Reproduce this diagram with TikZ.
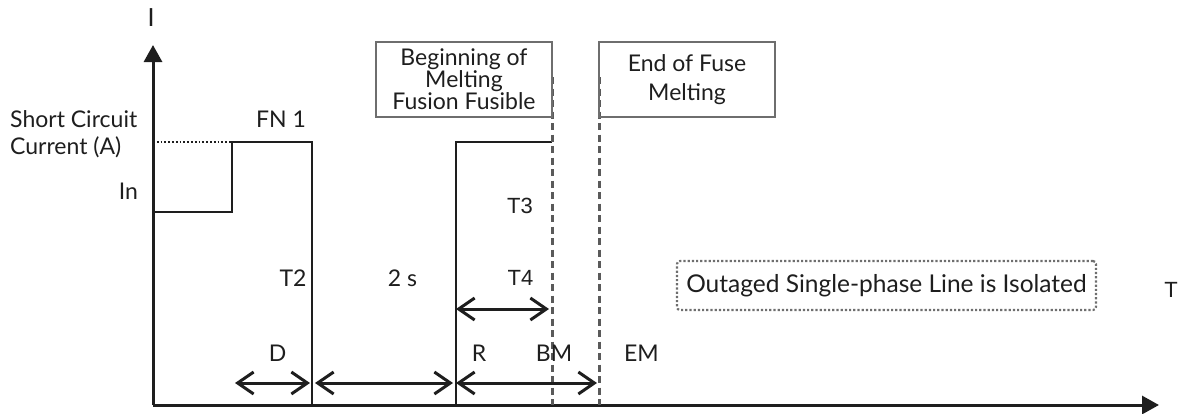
\documentclass[tikz,border=0pt]{standalone}
\usepackage{fontspec}
\setmainfont{Lato}
\newfontfamily\arialf{Liberation Sans}
\usetikzlibrary{arrows.meta}
\definecolor{ink}{HTML}{1E1E1E}
\definecolor{boxgray}{HTML}{6E6E6E}
\definecolor{dashgray}{HTML}{5A5A5A}
\tikzset{
  lbl/.style={inner sep=0pt, text=ink, font=\fontsize{23}{24}\selectfont},
  arl/.style={inner sep=0pt, text=ink, font=\arialf\fontsize{22}{24}\selectfont},
  axis/.style={line width=3pt, draw=ink, -{Triangle[length=17pt,width=18pt]}},
  pulse/.style={line width=1.6pt, draw=ink},
  span/.style={line width=3pt, draw=ink, {Straight Barb[length=16pt,width=22pt]}-{Straight Barb[length=16pt,width=22pt]}},
  eventline/.style={line width=3pt, draw=dashgray, dash pattern=on 7pt off 4.5pt},
  eventbox/.style={draw=boxgray, line width=1.8pt, minimum width=176pt, minimum height=75pt, inner sep=0pt, align=center, text=ink},
  notebox/.style={draw=boxgray, line width=2.2pt, dotted, rounded corners=3pt, minimum width=419pt, minimum height=49pt, inner sep=0pt, text=ink, font=\fontsize{24.5}{26}\selectfont}
}
\begin{document}
\begin{tikzpicture}[x=1pt,y=-1pt]
\useasboundingbox (0,0) rectangle (1179,413);
% coordinates
\coordinate (O) at (153,405);
\coordinate (Ytop) at (153,45);
\coordinate (Xend) at (1159,405);
\coordinate (p1a) at (153,212);
\coordinate (p1b) at (232,212);
\coordinate (p1c) at (232,142);
\coordinate (p1d) at (312,142);
\coordinate (p1e) at (312,405);
\coordinate (dotS) at (153,142);
\coordinate (p2a) at (456,405);
\coordinate (p2b) at (456,142);
\coordinate (p2c) at (552,142);
\coordinate (bmT) at (552,77);
\coordinate (bmB) at (552,405);
\coordinate (emT) at (599,77);
\coordinate (emB) at (599,405);
\coordinate (dA) at (235,383);
\coordinate (dB) at (310,383);
\coordinate (sA) at (315,383);
\coordinate (sB) at (453,383);
\coordinate (rA) at (456,383);
\coordinate (rB) at (597,383);
\coordinate (t4A) at (456,309);
\coordinate (t4B) at (549,309);
% axes
\draw[axis] (O) -- (Ytop);
\draw[axis] (O) -- (Xend);
% first pulse
\draw[line width=1.8pt, draw=ink, dotted] (dotS) -- (p1c);
\draw[pulse] (p1a) -- (p1b) -- (p1c) -- (p1d) -- (p1e);
% second pulse
\draw[pulse] (p2a) -- (p2b) -- (p2c);
% dashed markers
\draw[eventline] (bmT) -- (bmB);
\draw[eventline] (emT) -- (emB);
% boxes
\node[eventbox, font=\fontsize{23}{22}\selectfont] (bm) at (464,79.5) {Beginning of\\Melting\\Fusion Fusible};
\node[eventbox, font=\fontsize{23}{29}\selectfont] (em) at (687,79.5) {End of Fuse\\Melting};
\node[notebox] (iso) at (886.5,285.5) {Outaged Single-phase Line is Isolated};
% spans
\draw[span] (dA) -- (dB);
\draw[span] (sA) -- (sB);
\draw[span] (rA) -- (rB);
\draw[span] (t4A) -- (t4B);
% labels
\node[lbl, font=\fontsize{25}{25}\selectfont] (I) at (151,18) {I};
\node[lbl, anchor=west, align=left, font=\fontsize{23}{27}\selectfont] (sc) at (10,134) {Short Circuit\\Current (A)};
\node[lbl, anchor=base] (fn) at (281,127) {FN 1};
\node[lbl, anchor=base] (in) at (128.5,199) {In};
\node[lbl, anchor=base] (t2) at (293,286) {T2};
\node[lbl, anchor=base] (two) at (402.5,286) {2 s};
\node[arl, anchor=base] (t3) at (520,213) {T3};
\node[arl, anchor=base] (t4) at (520.5,285) {T4};
\node[lbl, anchor=base] (d) at (277.5,361) {D};
\node[lbl, anchor=base] (r) at (479,361) {R};
\node[lbl, anchor=base] (bmL) at (554,361) {BM};
\node[lbl, anchor=base] (emL) at (641.5,361) {EM};
\node[arl, anchor=base east] (T) at (1178,297) {T};
\end{tikzpicture}
\end{document}
